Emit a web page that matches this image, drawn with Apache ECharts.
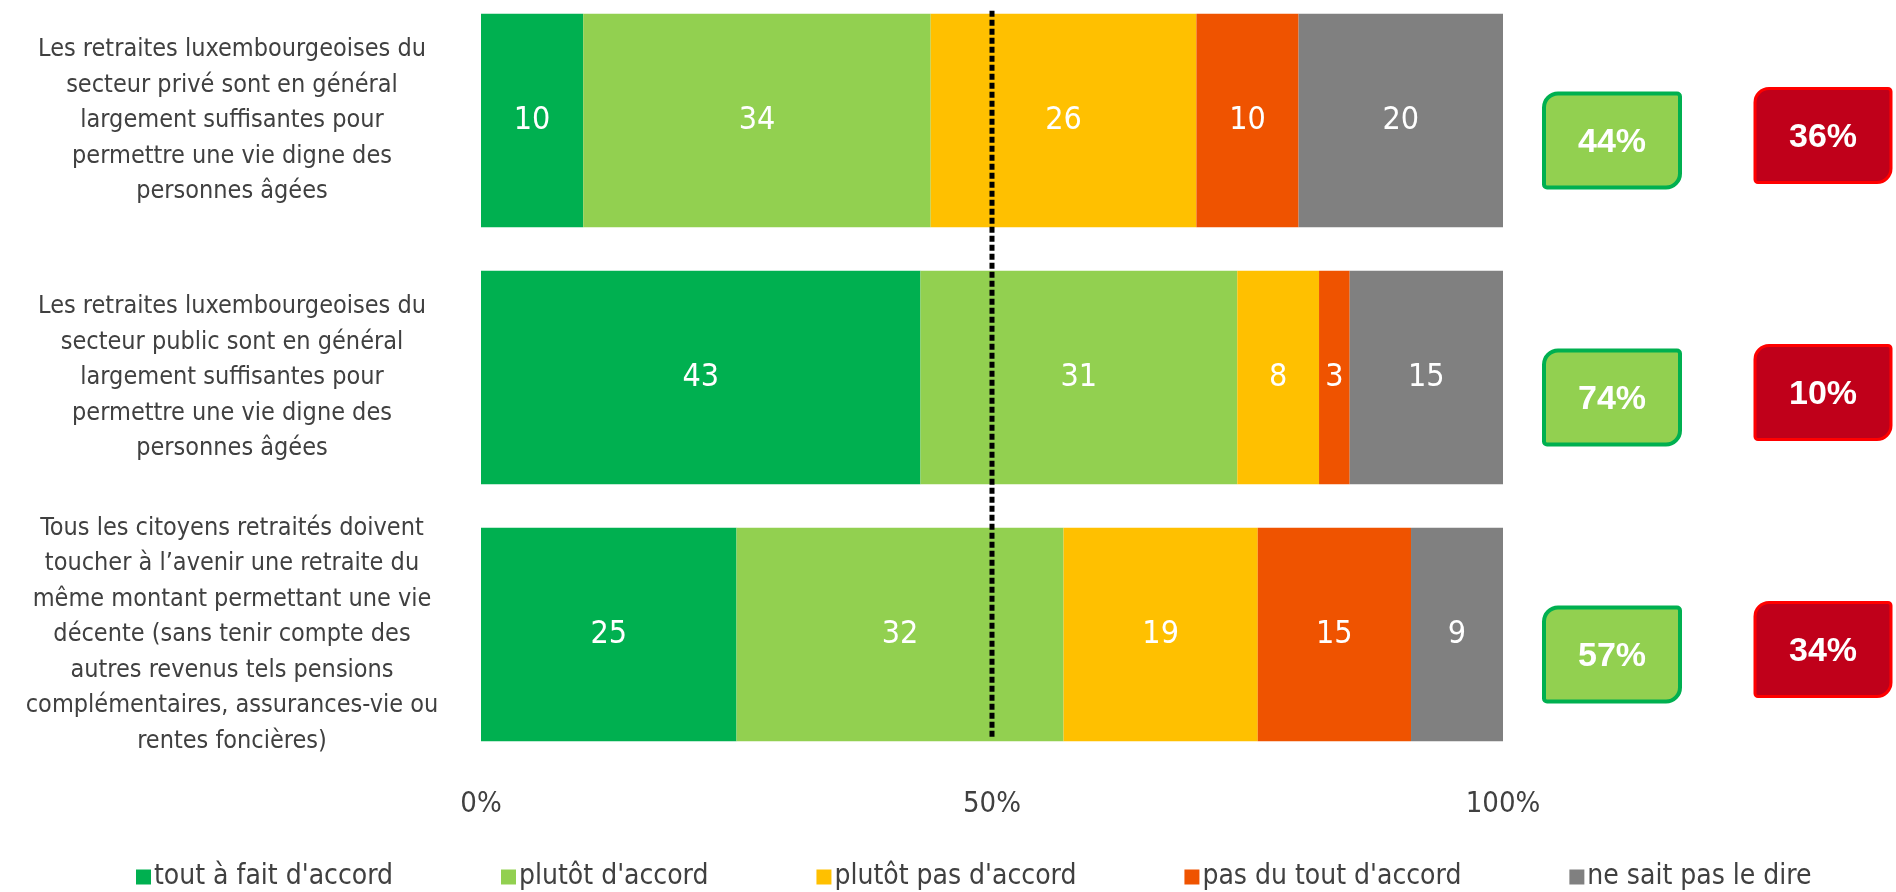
<!DOCTYPE html>
<html>
<head>
<meta charset="utf-8">
<script src="https://cdn.jsdelivr.net/npm/echarts@6/dist/echarts.min.js"></script>
<style>
  html, body { margin: 0; padding: 0; background: #fff; }
  #chart { width: 1896px; height: 892px; }
</style>
</head>
<body>
<div id="chart"></div>
<script>
// statements (top to bottom)
const statements = [
  'Les retraites luxembourgeoises du\nsecteur privé sont en général\nlargement suffisantes pour\npermettre une vie digne des\npersonnes âgées',
  'Les retraites luxembourgeoises du\nsecteur public sont en général\nlargement suffisantes pour\npermettre une vie digne des\npersonnes âgées',
  'Tous les citoyens retraités doivent\ntoucher à l’avenir une retraite du\nmême montant permettant une vie\ndécente (sans tenir compte des\nautres revenus tels pensions\ncomplémentaires, assurances-vie ou\nrentes foncières)'
];
const answerNames = ["tout à fait d'accord", "plutôt d'accord", "plutôt pas d'accord", "pas du tout d'accord", "ne sait pas le dire"];
const toutAFait   = [10, 43, 25];
const plutotAcc   = [34, 31, 32];
const plutotPas   = [26, 8, 19];
const pasDuTout   = [10, 3, 15];
const neSaitPas   = [20, 15, 9];
const agreeTotals    = [44, 74, 57];
const disagreeTotals = [36, 10, 34];
const midLine = 50;

const colors = ['#00B050', '#92D050', '#FFC000', '#EF5300', '#808080'];
const FONT = "'DejaVu Sans Condensed', 'Liberation Sans', sans-serif";
const textGrey = '#404040';

const chart = echarts.init(document.getElementById('chart'));

const gridTop = -8, gridHeight = 771;

const barSeries = [toutAFait, plutotAcc, plutotPas, pasDuTout, neSaitPas].map((vals, i) => ({
  name: answerNames[i],
  type: 'bar',
  stack: 'total',
  barCategoryGap: '17%',
  itemStyle: { color: colors[i] },
  label: {
    show: true,
    position: 'inside',
    color: '#fff',
    fontFamily: FONT,
    fontSize: 32
  },
  data: vals
}));

function boxRenderer(fill, stroke, lineW, dy) {
  return function (params, api) {
    const p = api.coord([api.value(0), api.value(1)]);
    const w = 136, h = 94;
    return {
      type: 'group',
      children: [
        {
          type: 'rect',
          shape: { x: p[0] - w / 2, y: p[1] + dy - h / 2, width: w, height: h, r: [14, 3, 14, 3] },
          style: { fill: fill, stroke: stroke, lineWidth: lineW }
        },
        {
          type: 'text',
          style: {
            text: api.value(2) + '%',
            x: p[0], y: p[1] + dy + 2,
            align: 'center', verticalAlign: 'middle',
            fill: '#fff',
            font: "bold 34px 'Liberation Sans', sans-serif"
          }
        }
      ]
    };
  };
}

const option = {
  animation: false,
  backgroundColor: '#fff',
  grid: [
    { left: 481, right: 393, top: gridTop, height: gridHeight, containLabel: false, outerBoundsMode: 'none' },
    { left: 1612, right: 73, top: gridTop, height: gridHeight, containLabel: false, outerBoundsMode: 'none' }
  ],
  legend: {
    data: answerNames,
    left: 131,
    top: 858,
    width: 1800,
    icon: 'rect',
    itemWidth: 15,
    itemHeight: 15,
    itemGap: 108,
    textStyle: { fontFamily: FONT, fontSize: 28, color: textGrey, padding: [0, 0, 0, -2] }
  },
  xAxis: [
    {
      type: 'value',
      min: 0, max: 100, interval: 50,
      axisLine: { show: false },
      axisTick: { show: false },
      splitLine: { show: false },
      axisLabel: {
        formatter: v => v + '%',
        fontFamily: FONT, fontSize: 29, color: textGrey, margin: 27
      }
    },
    { type: 'value', gridIndex: 1, min: 0, max: 1, show: false }
  ],
  yAxis: [
    {
      type: 'category',
      inverse: true,
      data: statements,
      axisLine: { show: false },
      axisTick: { show: false },
      axisLabel: {
        align: 'center',
        margin: 249,
        padding: [10, 0, 0, 0],
        fontFamily: FONT, fontSize: 25, lineHeight: 35.5, color: textGrey
      }
    },
    { type: 'category', gridIndex: 1, inverse: true, data: statements, show: false }
  ],
  series: barSeries.concat([
    {
      type: 'custom',
      z: 10,
      silent: true,
      encode: { x: 0, y: 1 },
      data: [[midLine, 0]],
      renderItem: function (params, api) {
        const a = api.coord([api.value(0), 0]);
        const b = api.coord([api.value(0), statements.length - 1]);
        const half = api.size([0, 1])[1] * 0.83 / 2;
        return {
          type: 'line',
          shape: { x1: a[0], y1: a[1] - half - 3, x2: b[0], y2: b[1] + half - 3 },
          style: { stroke: '#000', lineWidth: 5, lineDash: [6, 3] }
        };
      }
    },
    {
      type: 'custom',
      xAxisIndex: 1, yAxisIndex: 1,
      silent: true,
      encode: { x: 0, y: 1 },
      data: agreeTotals.map((v, i) => [0, i, v]),
      renderItem: boxRenderer('#92D050', '#00B050', 4, 20)
    },
    {
      type: 'custom',
      xAxisIndex: 1, yAxisIndex: 1,
      silent: true,
      encode: { x: 0, y: 1 },
      data: disagreeTotals.map((v, i) => [1, i, v]),
      renderItem: boxRenderer('#C0001A', '#FF0000', 3, 15)
    }
  ])
};

chart.setOption(option);
</script>
</body>
</html>
